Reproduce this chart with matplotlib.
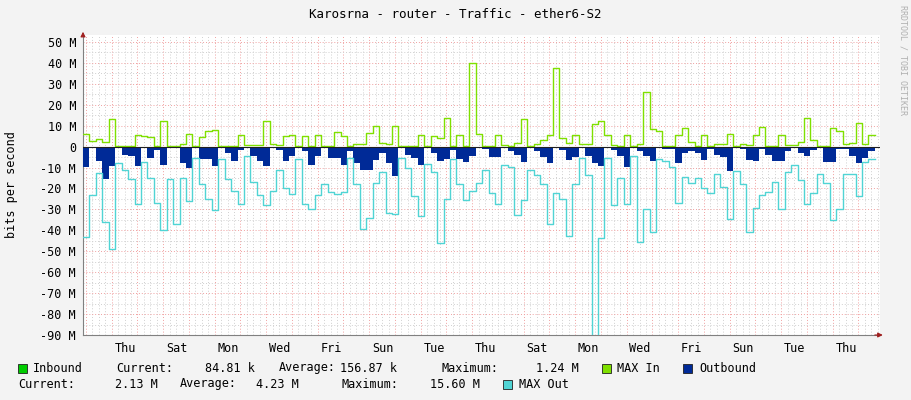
import numpy as np
import matplotlib
matplotlib.use('Agg')
import matplotlib.pyplot as plt

# 6-hour steps, values in Mbit/s
max_in = [6, 2.7, 3.6, 2, 13, 0.2, 0.5, 0.5, 5.5, 4.9, 4.6, 0.2, 12, 0.2, 0.5, 1.3, 6, 0.2, 4.6, 7.3, 8, 0.2, 0.5, 0.5, 5.4, 0.8, 0.8, 0.8, 12.4, 1.3, 0.6,
          5, 5.7, 0.2, 5, 0.2, 5.4, 0.2, 0.2, 7, 5, 0.5, 1, 1.2, 6.7, 9.8, 1.7, 1, 9.8, 0.5, 0.5, 0.5, 5.4, 0.2, 5, 4.2, 13.6, 0.2, 5.4, 0.2, 40, 6,
          0.2, 0.2, 5.6, 0.9, 0.2, 1.7, 13, 0.2, 1, 3.2, 5.6, 37.5, 4, 1.7, 5.6, 1.4, 1.4, 11, 12.2, 5.7, 0.8, 0.2, 5.6, 0.2, 1.3, 26.3, 8.4, 7.3, 0.4, 0.3, 5.6,
          8.9, 2.2, 0.5, 5.4, 0.5, 1, 1, 6, 0.2, 1.3, 0.6, 5.7, 9.4, 0.3, 0.3, 5.4, 0.6, 0.6, 2, 13.7, 3.3, 0.5, 0.5, 8.9, 7.3, 1.3, 1.7, 11.3, 1, 5.4]
outbound = [-9.7, -0.3, -7, -15.7, -9.4, -0.3, -3.8, -4.6, -9.4, -0.6, -5.4, -1.5, -8.6, -0.6, -0.3, -7.8, -10, -0.6, -6, -6, -9.4, -0.3, -3, -7, -1.5, -0.6, -4.6, -7, -9.4, -0.3, -1.5,
            -7, -4.6, -0.8, -2.3, -8.6, -4.6, -0.6, -5.4, -5.4, -8.6, -2.3, -7.8, -11, -11, -6.2, -3, -7.8, -14, -0.6, -3.8, -5.4, -9, -0.6, -3, -7, -6, -1.5, -6, -7.4, -4.6, -0.6,
            -1, -5, -5, -0.6, -2.2, -3.8, -7.5, -0.6, -2.2, -5, -7.8, -0.2, -1.4, -6.2, -5, -0.6, -4.3, -7.8, -9.4, -0.6, -1.4, -4.3, -9.7, -0.8, -2.2, -4.6, -7, -0.6, -1, -1, -7.8,
            -3, -2.2, -3, -6.2, -1, -3.8, -5, -11.7, -0.6, -1, -6.2, -6.7, -1, -3.8, -7, -7, -2.2, -0.6, -3, -4.3, -1.4, -0.6, -7.3, -7.3, -1, -1, -4.6, -7.8, -5.4, -2.2]
max_out = [-43, -23, -12.5, -36, -49, -7.8, -11, -15.4, -27.6, -7.3, -15, -27, -40, -15.7, -37, -15, -26, -5.4, -18, -25, -30.5, -5.9, -15.7, -21, -27.6, -4.3, -17, -23, -28, -21, -11.4,
           -20, -22.7, -6, -27.6, -30, -23, -18, -21.5, -22.5, -21.5, -5.4, -18, -39.5, -34, -17.6, -12.2, -31.6, -32, -5.4, -10, -23.5, -33, -8.3, -12, -46, -25, -5.8, -18, -25.6, -21, -17.3,
           -11.3, -22.4, -27.6, -8.6, -9.7, -32.9, -25.7, -11.3, -13.7, -17.8, -37, -22.4, -25, -42.7, -18, -5.4, -13.8, -100, -43.5, -5.4, -28, -15, -27.6, -4.6, -45.4, -30, -41, -5.7, -7, -9.7, -27,
           -14.4, -17.3, -15, -19.7, -22, -13, -19.4, -34.4, -11.7, -18, -40.6, -29.2, -23.3, -21.6, -17, -29.7, -12, -8.6, -16, -27.6, -22, -12.9, -17.6, -35, -30, -12.9, -12.9, -23.8, -7.3, -5.7]
day_labels = ['Thu', 'Sat', 'Mon', 'Wed', 'Fri', 'Sun', 'Tue', 'Thu', 'Sat', 'Mon', 'Wed', 'Fri', 'Sun', 'Tue', 'Thu']
y_ticks = list(range(-90, 51, 10))

mono = 'DejaVu Sans Mono'
plt.rcParams['font.family'] = mono

fig = plt.figure(figsize=(9.11, 4.0), dpi=100, facecolor='#f3f3f3')
ax = fig.add_axes([83 / 911, 65 / 400, 797 / 911, 300 / 400])
ax.set_facecolor('white')

n = len(max_in)
x = np.arange(n + 1)
ax.fill_between(x, np.append(outbound, outbound[-1]), 0, step='post', color='#002a97', lw=0, zorder=3)
ax.step(x, np.append(max_in, max_in[-1]), where='post', color='#7fe000', lw=1.0, zorder=4)
ax.step(x, np.append(max_out, max_out[-1]), where='post', color='#50d4d4', lw=1.0, zorder=4)

ax.set_xlim(0, 123.8)
ax.set_ylim(-90, 53.3)

# grid: minor every 6h / 5M, major every day / 10M
for xv in np.arange(0.46, 124, 1):
    major = abs((xv - 0.46) % 4) < 0.01
    ax.axvline(xv, color='#f0a0a0' if major else '#d0d0d0', lw=0.7, ls=(0, (1, 2)), zorder=1)
for yv in range(-90, 55, 5):
    ax.axhline(yv, color='#f0a0a0' if yv % 10 == 0 else '#d0d0d0', lw=0.7, ls=(0, (1, 2)), zorder=1)
ax.axhline(0, color='#202020', lw=0.8, zorder=5)

ax.set_yticks(y_ticks)
ax.set_yticklabels(['%d M' % v if v != 0 else '0' for v in y_ticks], fontsize=8.5)
ax.set_xticks(np.arange(len(day_labels)) * 8 + 6.52)
ax.set_xticklabels(day_labels, fontsize=8.5)
ax.tick_params(length=0, pad=5)
for s in ['top', 'right']:
    ax.spines[s].set_visible(False)
ax.spines['left'].set_color('#808080')
ax.spines['bottom'].set_color('#808080')
ax.annotate('', xy=(1.007, 0), xycoords='axes fraction', xytext=(0.99, 0),
            arrowprops=dict(arrowstyle='-|>', color='#a02020', lw=0.8, mutation_scale=7))
ax.annotate('', xy=(0, 1.02), xycoords='axes fraction', xytext=(0, 0.99),
            arrowprops=dict(arrowstyle='-|>', color='#a02020', lw=0.8, mutation_scale=7))

fig.text(0.5, 1 - 14 / 400, 'Karosrna - router - Traffic - ether6-S2', ha='center', va='center', fontsize=9)
fig.text(12 / 911, 1 - 185 / 400, 'bits per second', rotation=90, ha='center', va='center', fontsize=8.5)
fig.text(903 / 911, 1 - 60 / 400, 'RRDTOOL / TOBI OETIKER', rotation=270, ha='center', va='center',
         fontsize=6, color='#b0b0b0')

def box(px, py, color):
    fig.patches.append(plt.Rectangle((px / 911, 1 - (py + 5) / 400), 9 / 911, 9 / 400, transform=fig.transFigure,
                                     facecolor=color, edgecolor='#202020', lw=0.6))

def txt(px, py, s):
    fig.text(px / 911, 1 - py / 400, s, ha='left', va='center', fontsize=8.5)

y1, y2 = 368, 384
box(18, y1, '#00cc00'); txt(33, y1, 'Inbound')
txt(116, y1, 'Current:'); txt(205, y1, '84.81 k')
txt(279, y1, 'Average:'); txt(340, y1, '156.87 k')
txt(441, y1, 'Maximum:'); txt(536, y1, '1.24 M')
box(602, y1, '#7fe000'); txt(617, y1, 'MAX In')
box(683, y1, '#002a97'); txt(699, y1, 'Outbound')
txt(18, y2, 'Current:'); txt(115, y2, '2.13 M')
txt(180, y2, 'Average:'); txt(256, y2, '4.23 M')
txt(342, y2, 'Maximum:'); txt(430, y2, '15.60 M')
box(503, y2, '#50d4d4'); txt(519, y2, 'MAX Out')

fig.savefig('out.png', dpi=100, facecolor=fig.get_facecolor())
